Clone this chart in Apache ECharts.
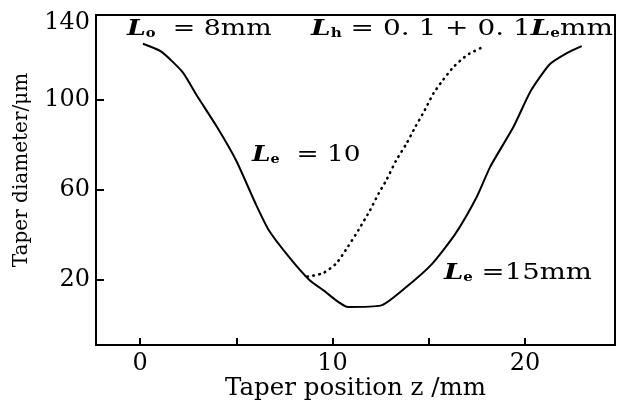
<!DOCTYPE html>
<html>
<head>
<meta charset="utf-8">
<script src="https://cdn.jsdelivr.net/npm/echarts@6/dist/echarts.min.js"></script>
<style>html,body{margin:0;padding:0;background:#fff}#c{width:617px;height:402px}</style>
</head>
<body>
<div id="c"></div>
<script>
// Solid curve (Le = 15mm)
var zSolid = [0.15, 1.1, 2.2, 2.95, 4.0, 5.0, 6.0, 6.7, 7.8, 8.8, 9.5, 10.8, 12.5, 13.85, 15.2, 16.4, 17.5, 18.2, 19.4, 20.3, 21.3, 22.2, 22.95];
var dSolid = [125, 121.5, 112.5, 102, 88, 73, 54, 42, 29.6, 20, 15.6, 8, 8.6, 17, 27.4, 40.7, 57, 70.4, 88, 104, 116, 121, 124];
// Dotted curve (Le = 10)
var zDot = [8.7, 9.5, 10.2, 10.8, 11.35, 11.95, 12.4, 12.8, 13.3, 13.85, 14.3, 14.8, 15.25, 15.75, 16.3, 17.0, 17.85];
var dDot = [21.5, 23, 27.4, 34.8, 42.2, 51, 58.5, 64.4, 73, 80.7, 88, 95.6, 103, 109, 114.8, 120, 123.7];
// Ticks
var xTicks = [0, 5, 10, 15, 20];
var xLabels = [0, 10, 20];
var yTicks = [20, 60, 100];
var yLabels = [20, 60, 100, 140];
var xMin = -2.29, xMax = 24.68, yMin = -8.9, yMax = 137.8;

function pairs(a, b) { return a.map(function (v, i) { return [v, b[i]]; }); }

var serif = '"DejaVu Serif", "Liberation Serif", serif';
var chart = echarts.init(document.getElementById('c'), null, {renderer: 'canvas'});
var richL = {
  L: {fontFamily: serif, fontStyle: 'italic', fontWeight: 'bold', fontSize: 22, fill: '#000', color: '#000'},
  s: {fontFamily: serif, fontSize: 12, fontWeight: 'bold', verticalAlign: 'bottom', padding: [8, 0, 0, 0], color: '#000', fill: '#000'},
  t: {fontFamily: serif, fontSize: 22, color: '#000', fill: '#000'}
};
function txt(x, y, s, sx) {
  return {type: 'text', x: x, y: y, scaleX: sx, scaleY: 1,
    style: {text: s, rich: richL, font: '22px ' + serif, fill: '#000'}};
}
chart.setOption({
  animation: false,
  backgroundColor: '#fff',
  grid: {left: 96, right: 2, top: 15, bottom: 57, show: true, borderColor: '#000', borderWidth: 2,
         containLabel: false, outerBoundsMode: 'none'},
  xAxis: {
    type: 'value', min: xMin, max: xMax,
    name: 'Taper position z /mm', nameLocation: 'middle', nameGap: 31, nameMoveOverlap: false,
    nameTextStyle: {fontFamily: serif, fontSize: 24.5, color: '#000'},
    axisLine: {onZero: false, lineStyle: {color: '#000', width: 2}},
    axisTick: {inside: true, length: 7, lineStyle: {color: '#000', width: 2}, customValues: xTicks},
    axisLabel: {customValues: xLabels, fontFamily: serif, fontSize: 24, color: '#000', margin: 7},
    splitLine: {show: false}
  },
  yAxis: {
    type: 'value', min: yMin, max: yMax,
    name: 'Taper diameter/μm', nameLocation: 'middle', nameGap: 64, nameMoveOverlap: false,
    nameTextStyle: {fontFamily: serif, fontSize: 20, color: '#000', padding: [0, 0, 0, 20]},
    axisLine: {onZero: false, lineStyle: {color: '#000', width: 2}},
    axisTick: {inside: true, length: 8, lineStyle: {color: '#000', width: 2}, customValues: yTicks},
    axisLabel: {
      customValues: yLabels.map(function (v) { return v > yMax ? yMax - 3.5 : v; }),
      formatter: function (v) { return v > yMax - 5 ? String(yLabels[yLabels.length - 1]) : String(v); },
      fontFamily: serif, fontSize: 24, color: '#000', margin: 6
    },
    splitLine: {show: false}
  },
  series: [
    {type: 'line', data: pairs(zSolid, dSolid), showSymbol: false, smooth: 0.2,
     lineStyle: {color: '#000', width: 2}},
    {type: 'line', data: pairs(zDot, dDot), showSymbol: false, smooth: 0.2,
     lineStyle: {color: '#000', width: 2.6, type: [0.5, 5.5], cap: 'round'}}
  ],
  graphic: [
    txt(127, 18, '{L|L}{s|o}{t|  = 8mm}', 1.22),
    txt(311, 18, '{L|L}{s|h}{t| = 0. 1 + 0. 1}{L|L}{s|e}{t|mm}', 1.27),
    txt(252, 144, '{L|L}{s|e}{t|  = 10}', 1.2),
    txt(444, 262, '{L|L}{s|e}{t| =15mm}', 1.25)
  ]
});
</script>
</body>
</html>
